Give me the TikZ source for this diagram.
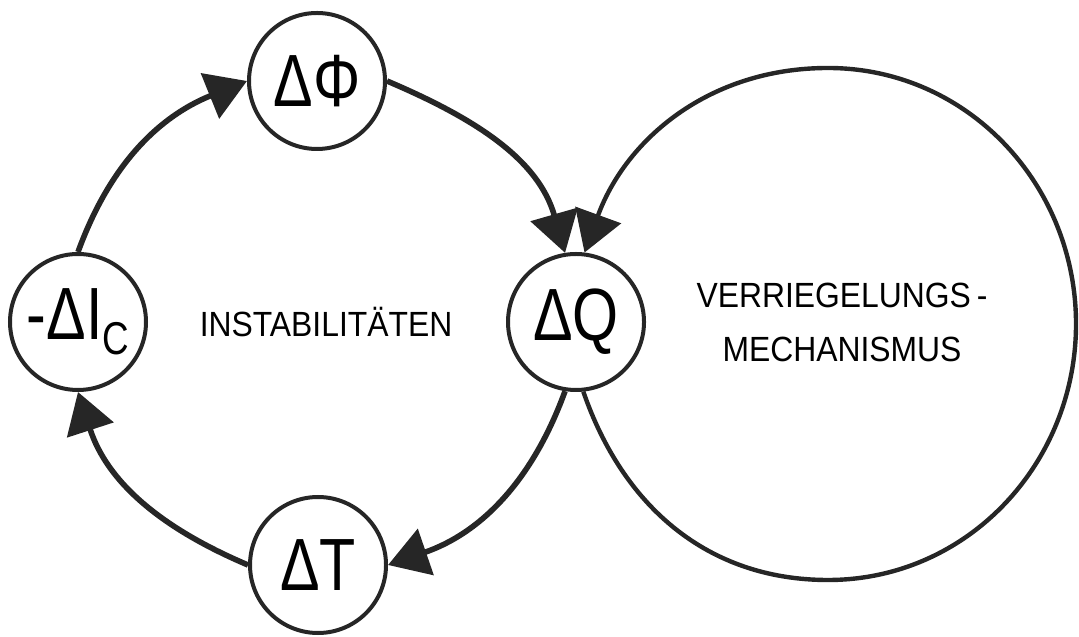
\documentclass[tikz,border=0pt]{standalone}
\usepackage{fontspec}
\newfontfamily\dinfont[FakeStretch=0.91]{Liberation Sans}
\newfontfamily\symfont[FakeStretch=0.8]{Liberation Sans}
\usetikzlibrary{arrows.meta}

\begin{document}
\begin{tikzpicture}[x=0.5pt,y=0.5pt,
  var/.style={circle,draw=black!85,line width=2pt,minimum size=68pt,inner sep=0pt,
    font=\symfont\fontsize{37}{37}\selectfont},
  loopline/.style={draw=black!85,line width=2.8pt,-{Triangle[length=20pt,width=24pt]}},
  lockline/.style={loopline,line width=2.2pt},
  lbl/.style={font=\dinfont\fontsize{17.5}{27}\selectfont,align=center}]
\useasboundingbox (0,0) rectangle (1079,636);

% variables of the instability loop
\node[var] (dPhi) at (317,555) {ΔΦ};
\node[var] (dQ) at (576,314) {ΔQ};
\node[var] (dT) at (318,71) {ΔT};
\node[var] (dIc) at (78,314) {-ΔI\raisebox{-7.5pt}{\fontsize{23}{23}\selectfont C}};

% labels
\node[lbl,anchor=base] (instab) at (326,299) {INSTABILITÄTEN};
\node[lbl,anchor=base] (lock) at (842,274) {VERRIEGELUNGS\,-\\MECHANISMUS};

% points on the locking loop
\coordinate (vbot) at (828,56);
\coordinate (vright) at (1076,312);
\coordinate (vtop) at (828,568);

% instability loop
\draw[loopline] (dIc.north) to[out=70,in=202] (dPhi.west);
\draw[loopline] (dPhi.east) to[out=-23,in=106] (dQ.99);
\draw[loopline] (dQ.-99) to[out=-110,in=19] (dT.east);
\draw[loopline] (dT.west) to[out=157,in=-72] (dIc.south);

% locking loop
\draw[lockline] (dQ.-84) to[out=-71,in=180] (vbot) to[out=0,in=-90] (vright)
  to[out=90,in=0] (vtop) to[out=180,in=70] (dQ.83);

\end{tikzpicture}
\end{document}
